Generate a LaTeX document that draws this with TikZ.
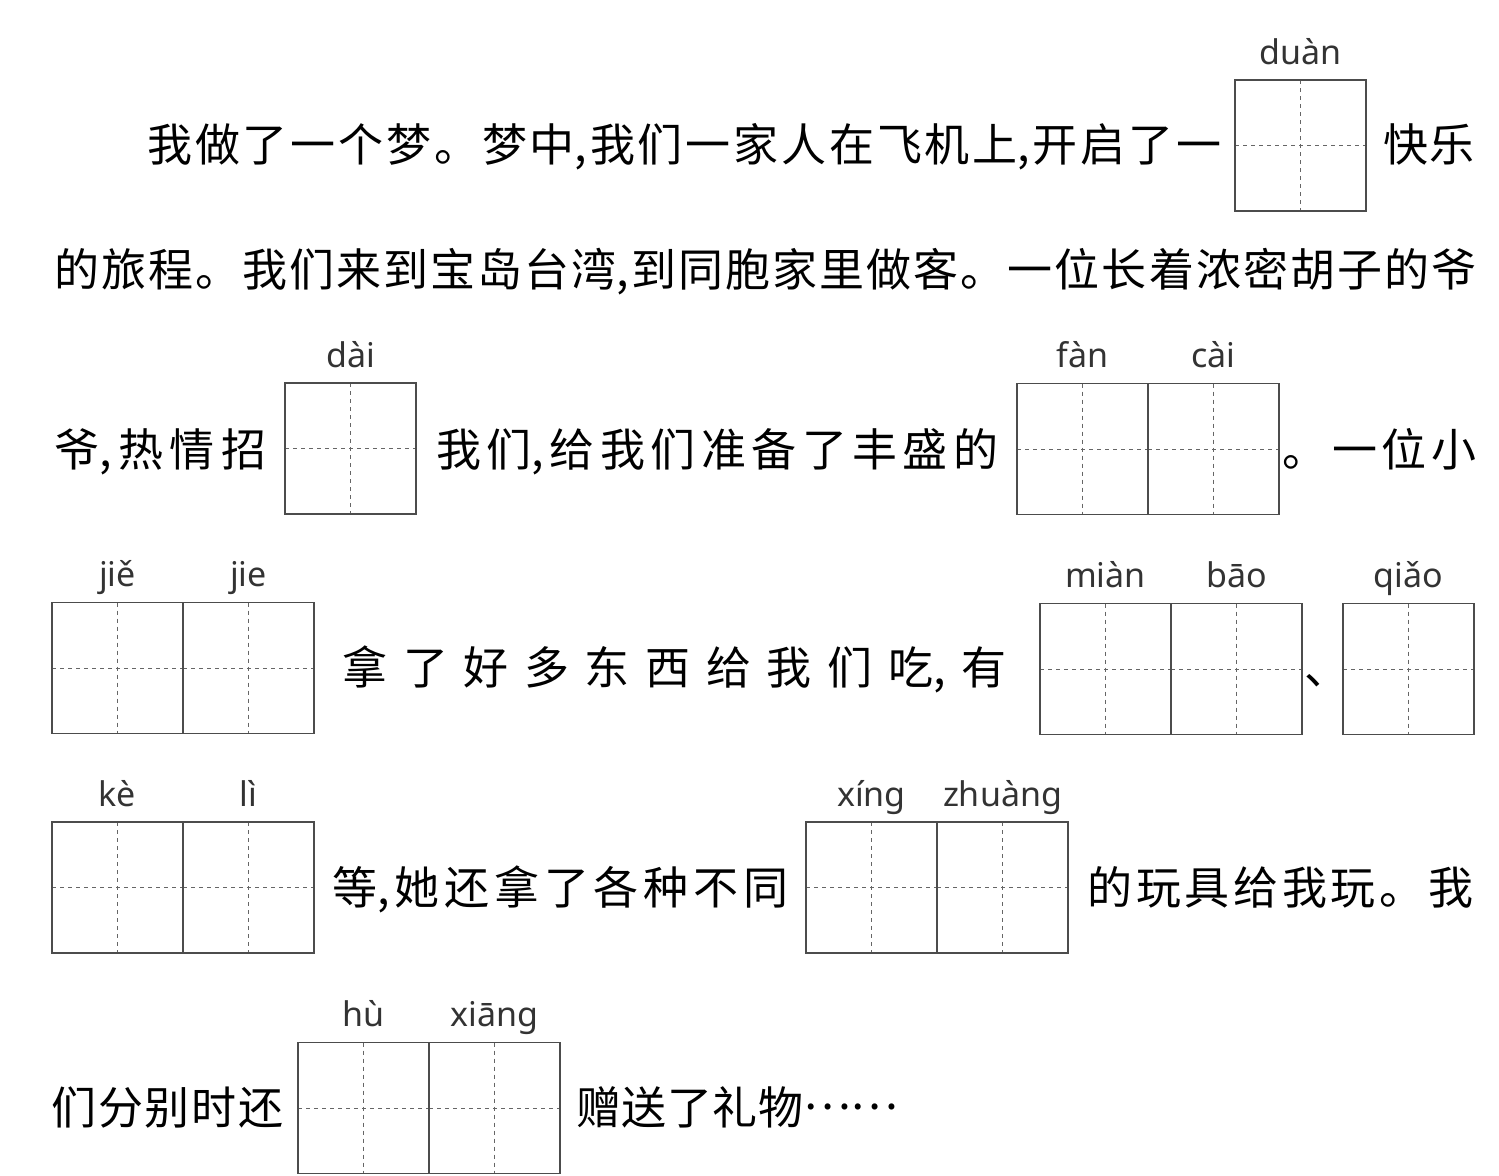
\documentclass[tikz,border=0pt]{standalone}
\usepackage{fontspec}
\newfontfamily\cjk{Noto Sans CJK SC}
\newfontfamily\pyfont{Noto Sans}
\usetikzlibrary{positioning}

\newlength\pxlen
\setlength\pxlen{0.5pt}
% stretchable glue between han characters %
\XeTeXinterchartokenstate=1
\newXeTeXintercharclass\hanclass
\makeatletter
\@tempcnta="4E00
\loop\XeTeXcharclass\@tempcnta=\hanclass
  \advance\@tempcnta by 1
\ifnum\@tempcnta<"A000\repeat
\makeatother
\XeTeXcharclass"3001=\hanclass
\XeTeXcharclass"3002=\hanclass
\XeTeXcharclass"2026=0
\XeTeXinterchartoks\hanclass\hanclass={\hfil}
\XeTeXinterchartoks 0\hanclass={\hfil}
\newcommand\spread[2]{\makebox[#1\pxlen][s]{#2}}
\newcommand\middots{\raisebox{0.33em}{……}}

\tikzset{
  cell/.style={draw=black!70, line width=0.7pt, minimum size=131\pxlen,
    inner sep=0pt, outer sep=0pt,
    path picture={\draw[black!60, line width=0.4pt, dash pattern=on 2pt off 2pt]
      (path picture bounding box.north) -- (path picture bounding box.south)
      (path picture bounding box.west) -- (path picture bounding box.east);}},
  pinyin/.style={font=\pyfont\fontsize{17}{20}\selectfont, text=black!80,
    anchor=base, inner sep=0pt},
  words/.style={font=\cjk\fontsize{22.5}{26}\selectfont, text=black,
    anchor=base west, inner sep=0pt},
}

\begin{document}
\begin{tikzpicture}[x=0.5pt, y=-0.5pt]
    \useasboundingbox (0,0) rectangle (1499,1175);
    % boxes %
    \node[cell] (duan) at (1300.5,145.5) {};
    \node[cell] (dai) at (350.5,448.5) {};
    \node[cell] (fan) at (1082.5,449) {};
    \node[cell, right = 0 of fan] (cai) {};
    \node[cell] (jie1) at (117.5,668) {};
    \node[cell, right = 0 of jie1] (jie2) {};
    \node[cell] (mian) at (1105.5,669) {};
    \node[cell, right = 0 of mian] (bao) {};
    \node[cell] (qiao) at (1408.5,669) {};
    \node[cell] (ke) at (117.5,887.5) {};
    \node[cell, right = 0 of ke] (li) {};
    \node[cell] (xing) at (871.5,887.5) {};
    \node[cell, right = 0 of xing] (zhuang) {};
    \node[cell] (hu) at (363.5,1108) {};
    \node[cell, right = 0 of hu] (xiang) {};
    % pinyin %
    \node[pinyin] (py-duan) at ([yshift=8pt]duan.north) {duàn};
    \node[pinyin] (py-dai) at ([yshift=8pt]dai.north) {dài};
    \node[pinyin] (py-fan) at ([yshift=8pt]fan.north) {fàn};
    \node[pinyin] (py-cai) at ([yshift=8pt]cai.north) {cài};
    \node[pinyin] (py-jie1) at ([yshift=8pt]jie1.north) {jiě};
    \node[pinyin] (py-jie2) at ([yshift=8pt]jie2.north) {jie};
    \node[pinyin] (py-mian) at ([yshift=8pt]mian.north) {miàn};
    \node[pinyin] (py-bao) at ([yshift=8pt]bao.north) {bāo};
    \node[pinyin] (py-qiao) at ([yshift=8pt]qiao.north) {qiǎo};
    \node[pinyin] (py-ke) at ([yshift=8pt]ke.north) {kè};
    \node[pinyin] (py-li) at ([yshift=8pt]li.north) {lì};
    \node[pinyin] (py-xing) at ([yshift=8pt]xing.north) {xíng};
    \node[pinyin] (py-zhuang) at ([yshift=8pt]zhuang.north) {zhuàng};
    \node[pinyin] (py-hu) at ([yshift=8pt]hu.north) {hù};
    \node[pinyin] (py-xiang) at ([yshift=8pt]xiang.north) {xiāng};
    % text %
    \node[words] (t1a) at (147,161) {\spread{1074}{我做了一个梦。梦中,我们一家人在飞机上,开启了一}};
    \node[words] (t1b) at (1383,161) {\spread{91}{快乐}};
    \node[words] (t2) at (54,286) {\spread{1422}{的旅程。我们来到宝岛台湾,到同胞家里做客。一位长着浓密胡子的爷}};
    \node[words] (t3a) at (54,466) {\spread{212}{爷,热情招}};
    \node[words] (t3b) at (436,466) {\spread{562}{我们,给我们准备了丰盛的}};
    \node[words] (t3c) at (1282,466) {\spread{194}{。一位小}};
    \node[words] (t4a) at (342,684) {\spread{664}{拿了好多东西给我们吃,有}};
    \node[words] (t4b) at (1304,684) {、};
    \node[words] (t5a) at (332,904) {\spread{456}{等,她还拿了各种不同}};
    \node[words] (t5b) at (1087,904) {\spread{386}{的玩具给我玩。我}};
    \node[words] (t6a) at (51,1124) {\spread{232}{们分别时还}};
    \node[words] (t6b) at (576,1124) {\spread{322}{赠送了礼物\middots}};
\end{tikzpicture}
\end{document}
